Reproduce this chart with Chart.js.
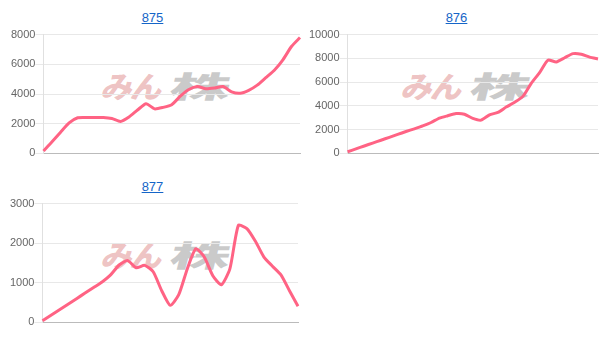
<!DOCTYPE html>
<html><head><meta charset="utf-8">
<script src="https://cdn.jsdelivr.net/npm/chart.js@4.4.1/dist/chart.umd.min.js"></script>
<style>
html,body{margin:0;padding:0;background:#fff;width:609px;height:351px;overflow:hidden;font-family:"Liberation Sans",Arial,sans-serif;}
.cell{position:absolute;width:305px;height:170px;}
.ttl{position:absolute;top:10px;left:0;width:100%;text-align:center;font-size:13px;}
.ttl a{color:#1565c8;text-decoration:underline;}
.cv{position:absolute;left:0;top:28px;width:305px;height:132px;}
.wm{position:absolute;font-weight:900;font-size:30px;white-space:nowrap;pointer-events:none;z-index:0;font-family:"Noto Sans CJK JP",sans-serif;line-height:1;transform-origin:left top;transform:skewX(-14deg);}
.wm .a{display:inline-block;color:rgba(215,110,110,0.42);letter-spacing:-2px;transform-origin:left top;transform:scaleX(1.05);}
.wm .b{display:inline-block;color:rgba(150,150,150,0.5);transform-origin:left top;transform:scaleX(2.0);margin-left:12px;}
canvas{position:relative;z-index:1;}
</style></head><body>
<div class="cell" style="left:0;top:0"><div class="ttl"><a href="#">875</a></div><div class="wm" style="left:107px;top:70px"><span class="a">みん</span><span class="b">株</span></div><div class="cv"><canvas id="c1"></canvas></div></div>
<div class="cell" style="left:304px;top:0"><div class="ttl"><a href="#">876</a></div><div class="wm" style="left:103px;top:70px"><span class="a">みん</span><span class="b">株</span></div><div class="cv"><canvas id="c2"></canvas></div></div>
<div class="cell" style="left:0;top:169px"><div class="ttl"><a href="#">877</a></div><div class="wm" style="left:107px;top:70px"><span class="a">みん</span><span class="b">株</span></div><div class="cv"><canvas id="c3"></canvas></div></div>
<script>
const titles = ["875", "876", "877"];
const labels = Array.from({length: 31}, (_, i) => String(i + 1));
const series875 = [160,780,1430,2050,2400,2420,2420,2420,2350,2150,2450,2920,3350,3000,3100,3280,3850,4300,4500,4350,4400,4500,4150,4050,4250,4600,5100,5600,6300,7200,7800];
const series876 = [140,380,625,870,1110,1350,1600,1840,2070,2310,2600,2970,3170,3350,3300,2950,2800,3250,3450,3900,4300,4800,5900,6800,7850,7700,8050,8400,8350,8100,7950];
const series877 = [40,180,320,460,600,740,880,1020,1200,1450,1560,1380,1440,1280,800,430,700,1350,1860,1650,1180,950,1350,2450,2370,2050,1650,1420,1200,800,410];
const yMax = [8000, 10000, 3000];
const yStep = [2000, 2000, 1000];
const leftPad = [11, 5, 10];
const rightPad = [5, 11, 7];
const all = [series875, series876, series877];
Chart.defaults.font.family = '"Liberation Sans", Arial, sans-serif';
Chart.defaults.font.size = 11;
Chart.defaults.color = '#666';
['c1','c2','c3'].forEach((id, k) => {
  new Chart(document.getElementById(id), {
    type: 'line',
    data: { labels: labels, datasets: [{ label: titles[k], data: all[k], borderColor: 'rgb(255,99,132)', backgroundColor: 'rgb(255,99,132)', borderWidth: 3, pointRadius: 0, tension: 0.2, fill: false }] },
    options: {
      responsive: true, maintainAspectRatio: false, animation: false,
      layout: { padding: { left: leftPad[k], right: rightPad[k], top: 2, bottom: 0 } },
      plugins: { legend: { display: false }, tooltip: { enabled: false } },
      scales: {
        x: { ticks: { display: false }, grid: { display: false, drawTicks: false }, border: { display: true, color: '#bbb' } },
        y: { min: 0, max: yMax[k], ticks: { stepSize: yStep[k], padding: 0, callback: v => String(v) }, grid: { color: '#e8e8e8', drawTicks: true, tickLength: 8 }, border: { display: true, color: '#e0e0e0' } }
      }
    }
  });
});
</script>
</body></html>
